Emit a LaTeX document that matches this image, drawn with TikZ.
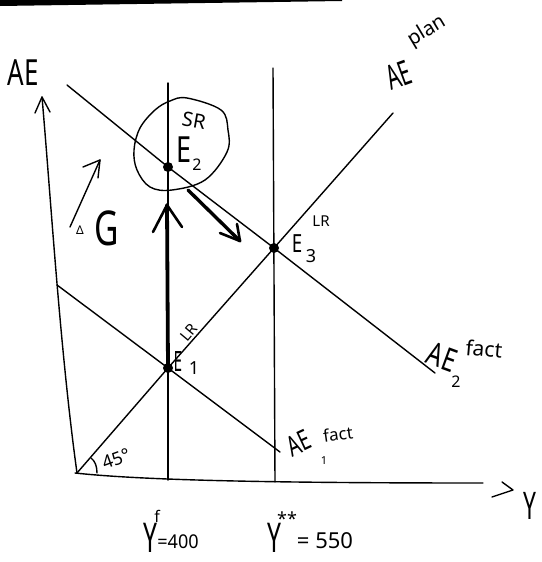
\documentclass[tikz,border=0pt]{standalone}
\usepackage{fontspec}
\setmainfont{Noto Sans}
\newcommand{\hsz}[1]{\fontsize{#1}{#1}\selectfont}
\begin{document}
\begin{tikzpicture}[x=1pt,y=-1pt,line cap=round,line join=round,
  ln/.style={line width=1.4pt},
  thk/.style={line width=3.8pt},
  barb/.style={line width=2.6pt},
  hw/.style={inner sep=0pt,outer sep=0pt,transform shape,anchor=center}]
\useasboundingbox (0,0) rectangle (541,562);
% top black bar
\fill (0,0) -- (342,0) -- (342,1) -- (0,6) -- cycle;
% key points
\coordinate (O) at (77,473);
\coordinate (ytip) at (42,97);
\coordinate (ybl) at (35,113);
\coordinate (ybr) at (50,112);
\coordinate (xend) at (483,483);
\coordinate (xa) at (502,482);
\coordinate (xb) at (513,490);
\coordinate (xc) at (492,497);
\coordinate (E1) at (168,368);
\coordinate (E2) at (168,167);
\coordinate (E3) at (274,248);
\coordinate (planTop) at (393,113);
\coordinate (a2s) at (67,85);
\coordinate (a2e) at (435,373);
\coordinate (a1s) at (57,285);
\coordinate (a1e) at (280,452);
\coordinate (v1t) at (168,83);
\coordinate (v1b) at (168,480);
\coordinate (v2t) at (273,68);
\coordinate (v2b) at (275,482);
% axes
\draw[ln] (O) .. controls (60,350) and (51,200) .. (ytip);
\draw[ln] (ybl) -- (ytip) -- (ybr);
\draw[ln] (75,473) .. controls (140,480) and (260,483) .. (xend);
\draw[ln] (xa) -- (xb) -- (xc);
% verticals
\draw[ln] (v1t) -- (v1b);
\draw[ln] (v2t) -- (v2b);
% AE lines
\draw[ln] (O) -- (E1) -- (E3) -- (planTop);
\draw[ln] (a2s) -- (E2) -- (E3) -- (a2e);
\draw[ln] (a1s) -- (E1) -- (a1e);
% angle arc
\draw[ln] (97,473) .. controls (97,466) and (95,461) .. (91,458);
% blob around E2
\draw[ln] plot[smooth cycle,tension=0.6] coordinates {(187,98) (221,110) (228,130) (227,152) (205,180) (172,190) (150,187) (137,170) (134,150) (140,128) (155,110) (170,101)};
% thick arrows
\coordinate (upTip) at (167,205);
\draw[thk] (E1) -- (upTip);
\draw[barb] (153,232) -- (upTip) -- (182,227);
\coordinate (dTip) at (240,241);
\draw[line width=3.4pt] (188,190) -- (dTip);
\draw[barb] (220,233) -- (dTip) -- (237,224);
% Delta G arrow
\coordinate (gTip) at (100,160);
\draw[ln] (70,227) -- (gTip);
\draw[ln] (83,167) -- (gTip) -- (98,178);
% dots
\fill (E1) circle (5);
\fill (E2) circle (5);
\fill (E3) circle (5);
% labels
\node[hw,xscale=0.72] (lAE) at (23,73) {\hsz{36}AE};
\node[hw,rotate=20,xscale=0.6] (lAEp) at (399,75) {\hsz{34}AE};
\node[hw,rotate=31] (lplan) at (427,31) {\hsz{20}plan};
\node[hw,xscale=0.75] (lE2) at (184,150) {\hsz{36}E};
\node[hw] (lE2s) at (197,165) {\hsz{16}2};
\node[hw,rotate=-10] (lE2SR) at (194,121) {\hsz{20}SR};
\node[hw,xscale=0.75] (lE3) at (297,244) {\hsz{25}E};
\node[hw] (lE3s) at (311,256) {\hsz{18}3};
\node[hw] (lE3LR) at (321,221) {\hsz{15}LR};
\node[hw,rotate=50] (lE1LR) at (189,332) {\hsz{15}LR};
\node[hw,xscale=0.55] (lE1) at (178,361) {\hsz{28}E};
\node[hw] (lE1s) at (194,368) {\hsz{18}1};
\node[hw,rotate=-20,xscale=0.75] (lAE2) at (442,357) {\hsz{32}AE};
\node[hw] (lAE2s) at (456,382) {\hsz{16}2};
\node[hw,rotate=-5] (lAE2f) at (484,349) {\hsz{21}fact};
\node[hw,rotate=25,xscale=0.7] (lAE1) at (299,443) {\hsz{28}AE};
\node[hw] (lAE1s) at (324,461) {\hsz{11}1};
\node[hw,rotate=8] (lAE1f) at (338,434) {\hsz{17}fact};
\node[hw,rotate=20] (l45) at (116,459) {\hsz{18}45°};
\node[hw,xscale=0.6] (lYf) at (150,538) {\hsz{41}Y};
\node[hw] (lYfs) at (157,516) {\hsz{16}\bfseries f};
\node[hw,xscale=0.95] (lYfv) at (178,542) {\hsz{19}=400};
\node[hw,xscale=0.6] (lYs) at (274,538) {\hsz{41}Y};
\node[hw] (lYss) at (287,519) {\hsz{18}\bfseries **};
\node[hw] (lYsv) at (325,541) {\hsz{22}= 550};
\node[hw,xscale=0.6] (lY) at (530,506) {\hsz{38}Y};
\node[hw] (lDelta) at (80,230) {\hsz{12}Δ};
\node[hw,xscale=0.7] (lG) at (107,228) {\hsz{48}G};
\end{tikzpicture}
\end{document}
